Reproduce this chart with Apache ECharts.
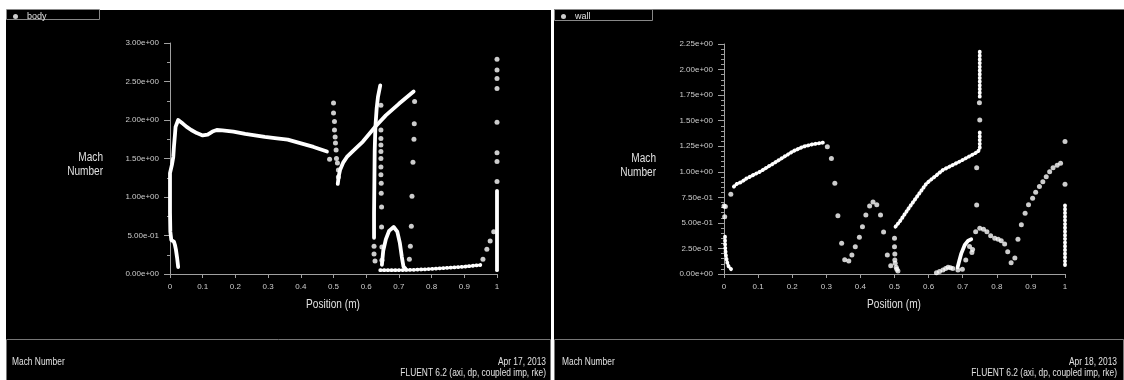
<!DOCTYPE html>
<html>
<head>
<meta charset="utf-8">
<title>Mach Number</title>
<script src="https://cdn.jsdelivr.net/npm/echarts@6/dist/echarts.min.js"></script>
<style>
  html, body { margin: 0; padding: 0; background: #fff; }
  #chart { width: 1124px; height: 380px; }
</style>
</head>
<body>
<div id="chart"></div>
<script>
// ---- body (left plot): Mach number along the body surface, [position m, Mach] ----
const bodyNoseLine = [[0.025,0.09],[0.022,0.2],[0.018,0.32],[0.015,0.38],[0.012,0.42],[0.004,0.44],[0.001,0.55],[0.0,0.8],[0.0,1.1],[0.0,1.31],[0.006,1.42],[0.01,1.52],[0.012,1.65],[0.015,1.8],[0.017,1.91],[0.025,2.0],[0.03,1.99],[0.04,1.95],[0.051,1.91],[0.065,1.87],[0.082,1.83],[0.1,1.8],[0.115,1.81],[0.13,1.85],[0.143,1.87],[0.16,1.865],[0.194,1.85],[0.23,1.82],[0.255,1.805],[0.29,1.78],[0.327,1.76],[0.36,1.745],[0.398,1.7],[0.439,1.65],[0.48,1.59]];
const bodyRampLine = [[0.513,1.17],[0.516,1.27],[0.52,1.35],[0.53,1.45],[0.541,1.52],[0.56,1.6],[0.59,1.72],[0.627,1.91],[0.66,2.06],[0.7,2.21],[0.745,2.37]];
const bodyWallLine = [[0.624,0.47],[0.624,0.8],[0.625,1.2],[0.626,1.6],[0.628,1.9],[0.632,2.15],[0.636,2.3],[0.643,2.45]];
const bodyBumpLine = [[0.648,0.12],[0.652,0.3],[0.66,0.45],[0.67,0.56],[0.684,0.61],[0.695,0.55],[0.703,0.4],[0.709,0.22],[0.714,0.095],[0.72,0.07]];
const bodyExitLine = [[1.0,0.05],[1.0,1.08]];
const bodyFloorLine = [[0.643,0.05],[0.7,0.05],[0.75,0.055],[0.8,0.065],[0.85,0.08],[0.9,0.095],[0.949,0.117]];
const bodyShockDots = [[0.488,1.49],[0.5,2.22],[0.5,2.09],[0.503,1.98],[0.503,1.87],[0.505,1.78],[0.506,1.7],[0.508,1.61],[0.509,1.5],[0.512,1.44],[0.515,1.35],[0.515,1.26]];
const bodyWallDots = [[0.624,0.36],[0.624,0.26],[0.627,0.17]];
const bodyColumnDots = [[0.645,2.19],[0.645,1.87],[0.645,1.76],[0.645,1.675],[0.645,1.59],[0.645,1.5],[0.645,1.39],[0.645,1.29],[0.646,1.18],[0.646,1.05],[0.647,0.87],[0.647,0.61],[0.648,0.35],[0.648,0.18]];
const bodyThroatDots = [[0.748,2.24],[0.747,1.95],[0.746,1.75],[0.743,1.45],[0.74,1.01],[0.738,0.62],[0.735,0.36],[0.732,0.19]];
const bodyTailDots = [[0.957,0.19],[0.969,0.32],[0.979,0.43],[0.99,0.55]];
const bodyExitDots = [[1,1.2],[1,1.46],[1,1.575],[1,1.97],[1,2.41],[1,2.54],[1,2.65],[1,2.79]];

// ---- wall (right plot): Mach number along the duct wall ----
const wallInletLine = [[0.003,0.365],[0.003,0.3],[0.004,0.235],[0.006,0.17],[0.01,0.105],[0.014,0.07],[0.018,0.055],[0.026,0.03]];
const wallRiseLine = [[0.029,0.855],[0.037,0.88],[0.051,0.9],[0.066,0.935],[0.105,1.0],[0.154,1.1],[0.202,1.2],[0.232,1.245],[0.261,1.27],[0.29,1.285]];
const wallRampLine = [[0.503,0.463],[0.515,0.512],[0.545,0.659],[0.594,0.887],[0.642,1.018],[0.691,1.1],[0.745,1.197],[0.75,1.23],[0.75,1.41]];
const wallThroatLine = [[0.75,1.735],[0.75,2.175]];
const wallRecoveryLine = [[0.685,0.065],[0.69,0.13],[0.696,0.202],[0.706,0.284],[0.716,0.326],[0.725,0.339]];
const wallExitLine = [[1,0.088],[1,0.698]];
const wallInletDots = [[0,0.665],[0.004,0.66],[0.002,0.56],[0.02,0.78]];
const wallDropDots = [[0.303,1.245],[0.315,1.13],[0.325,0.887],[0.334,0.57],[0.345,0.3],[0.354,0.14],[0.366,0.127],[0.375,0.186],[0.385,0.267],[0.397,0.359],[0.406,0.463],[0.416,0.577],[0.427,0.665],[0.437,0.704],[0.448,0.678],[0.459,0.577],[0.468,0.411],[0.479,0.186],[0.489,0.081]];
const wallStepDots = [[0.5,0.349],[0.5,0.267],[0.501,0.196],[0.501,0.137],[0.502,0.104],[0.505,0.065],[0.507,0.046],[0.51,0.03]];
const wallThroatDots = [[0.75,1.507],[0.749,1.676],[0.741,1.04],[0.741,0.675]];
const wallLowDots = [[0.623,0.013],[0.632,0.025],[0.642,0.04],[0.65,0.055],[0.657,0.065],[0.664,0.06],[0.671,0.055],[0.686,0.04],[0.699,0.046],[0.709,0.137],[0.72,0.27],[0.727,0.21],[0.729,0.24]];
const wallHumpDots = [[0.738,0.414],[0.75,0.447],[0.761,0.437],[0.771,0.414],[0.782,0.375],[0.794,0.349],[0.804,0.339],[0.813,0.326],[0.823,0.294],[0.832,0.218],[0.842,0.111],[0.853,0.157],[0.862,0.339],[0.872,0.483],[0.883,0.594],[0.893,0.678],[0.905,0.74],[0.914,0.8],[0.925,0.855],[0.935,0.903],[0.945,0.952],[0.955,1.0],[0.965,1.04],[0.977,1.063],[0.987,1.083]];
const wallExitDots = [[1,1.295],[1,0.877]];

// axis ranges
const bodyYMax = 3, bodyYStep = 0.5;
const wallYMax = 2.25, wallYStep = 0.25;

const FONT = "'Liberation Sans',Arial,sans-serif";
const NARROW = 0.84;           // horizontal squeeze for the narrow plot lettering
const TEXT = '#e0e0e0';
const AXIS = '#a0a0a0';

function sci(v) {
  return v.toExponential(2).replace(/e([+-])(\d)$/, 'e$10$2');
}

function scatter(name, idx, data) {
  return { type: 'scatter', name, xAxisIndex: idx, yAxisIndex: idx, data,
    symbol: 'circle', symbolSize: 5, itemStyle: { color: '#fff' }, clip: false, silent: true };
}
function curve(name, idx, data, dotted) {
  return { type: 'line', name, xAxisIndex: idx, yAxisIndex: idx, data, symbol: 'none',
    itemStyle: { color: '#fff' },
    lineStyle: { color: '#fff', width: 3.8, type: dotted ? [0.5, 3.2] : 'solid', cap: 'round', join: 'round' },
    clip: false, silent: true };
}

const series = [
  scatter('body', 0, [].concat(bodyShockDots, bodyWallDots, bodyColumnDots, bodyThroatDots, bodyTailDots, bodyExitDots)),
  curve('body', 0, bodyNoseLine), curve('body', 0, bodyRampLine), curve('body', 0, bodyWallLine),
  curve('body', 0, bodyBumpLine), curve('body', 0, bodyExitLine), curve('body', 0, bodyFloorLine, true),
  scatter('wall', 1, [].concat(wallInletDots, wallDropDots, wallStepDots, wallThroatDots, wallLowDots, wallHumpDots, wallExitDots)),
  curve('wall', 1, wallInletLine, true), curve('wall', 1, wallRiseLine, true), curve('wall', 1, wallRampLine, true),
  curve('wall', 1, wallThroatLine, true), curve('wall', 1, wallRecoveryLine), curve('wall', 1, wallExitLine, true)
];

function xAxis(idx) {
  return { type: 'value', gridIndex: idx, min: 0, max: 1, interval: 0.1,
    axisLine: { lineStyle: { color: AXIS } },
    axisTick: { length: 4, lineStyle: { color: AXIS } },
    axisLabel: { color: '#cccccc', fontFamily: FONT, fontSize: 8, margin: 9 },
    splitLine: { show: false } };
}
function yAxis(idx, max, step, minorSplit) {
  return { type: 'value', gridIndex: idx, min: 0, max, interval: step,
    axisLine: { show: true, lineStyle: { color: AXIS } },
    axisTick: { show: true, length: 6, lineStyle: { color: AXIS } },
    minorTick: { show: true, splitNumber: minorSplit, length: 3, lineStyle: { color: AXIS } },
    axisLabel: { color: '#cccccc', fontFamily: FONT, fontSize: 8, margin: 11, formatter: sci },
    splitLine: { show: false }, minorSplitLine: { show: false } };
}

// plain lettering, squeezed horizontally about its anchor point
const t = (x, y, text, align, size) => ({ type: 'text', x, y, z: 5, scaleX: NARROW, scaleY: 1,
  style: { x: 0, y: 0, text, fill: TEXT, font: size + 'px ' + FONT, align, verticalAlign: 'middle', lineHeight: 14 } });

const chart = echarts.init(document.getElementById('chart'), null, { renderer: 'canvas' });
chart.setOption({
  animation: false,
  backgroundColor: '#ffffff',
  grid: [
    { left: 170, top: 43, width: 327, height: 231 },
    { left: 724, top: 44, width: 341, height: 230 }
  ],
  xAxis: [xAxis(0), xAxis(1)],
  yAxis: [yAxis(0, bodyYMax, bodyYStep, 2), yAxis(1, wallYMax, wallYStep, 5)],
  legend: [
    { data: ['body'], left: 13, top: 12, padding: 0, icon: 'circle', itemWidth: 5, itemHeight: 5,
      selectedMode: false, itemStyle: { color: '#fff' },
      textStyle: { color: TEXT, fontFamily: FONT, fontSize: 9, padding: [0, 0, 0, 4] } },
    { data: ['wall'], left: 561, top: 12, padding: 0, icon: 'circle', itemWidth: 5, itemHeight: 5,
      selectedMode: false, itemStyle: { color: '#fff' },
      textStyle: { color: TEXT, fontFamily: FONT, fontSize: 9, padding: [0, 0, 0, 4] } }
  ],
  graphic: [
    { type: 'rect', z: -10, shape: { x: 6, y: 10, width: 545, height: 370 }, style: { fill: '#000' } },
    { type: 'rect', z: -10, shape: { x: 554, y: 9, width: 570, height: 371 }, style: { fill: '#000' } },
    { type: 'line', z: -9, shape: { x1: 554, y1: 9.5, x2: 1124, y2: 9.5 }, style: { stroke: '#777', lineWidth: 1 } },
    { type: 'rect', z: -9, shape: { x: 6.5, y: 339.5, width: 544, height: 42 }, style: { fill: 'none', stroke: '#777', lineWidth: 1 } },
    { type: 'rect', z: -9, shape: { x: 554.5, y: 339.5, width: 569, height: 42 }, style: { fill: 'none', stroke: '#777', lineWidth: 1 } },
    { type: 'rect', z: -9, shape: { x: 6.5, y: 9.5, width: 93, height: 10 }, style: { fill: 'none', stroke: '#888', lineWidth: 1 } },
    { type: 'rect', z: -9, shape: { x: 554.5, y: 9.5, width: 98, height: 11 }, style: { fill: 'none', stroke: '#888', lineWidth: 1 } },
    t(103, 165, 'Mach\nNumber', 'right', 12),
    t(656, 166, 'Mach\nNumber', 'right', 12),
    t(333, 305, 'Position (m)', 'center', 12),
    t(894, 305, 'Position (m)', 'center', 12),
    t(12, 362, 'Mach Number', 'left', 10),
    t(546, 362, 'Apr 17, 2013', 'right', 10),
    t(546, 373, 'FLUENT 6.2 (axi, dp, coupled imp, rke)', 'right', 10),
    t(562, 362, 'Mach Number', 'left', 10),
    t(1117, 362, 'Apr 18, 2013', 'right', 10),
    t(1117, 373, 'FLUENT 6.2 (axi, dp, coupled imp, rke)', 'right', 10)
  ],
  series
});
</script>
</body>
</html>
